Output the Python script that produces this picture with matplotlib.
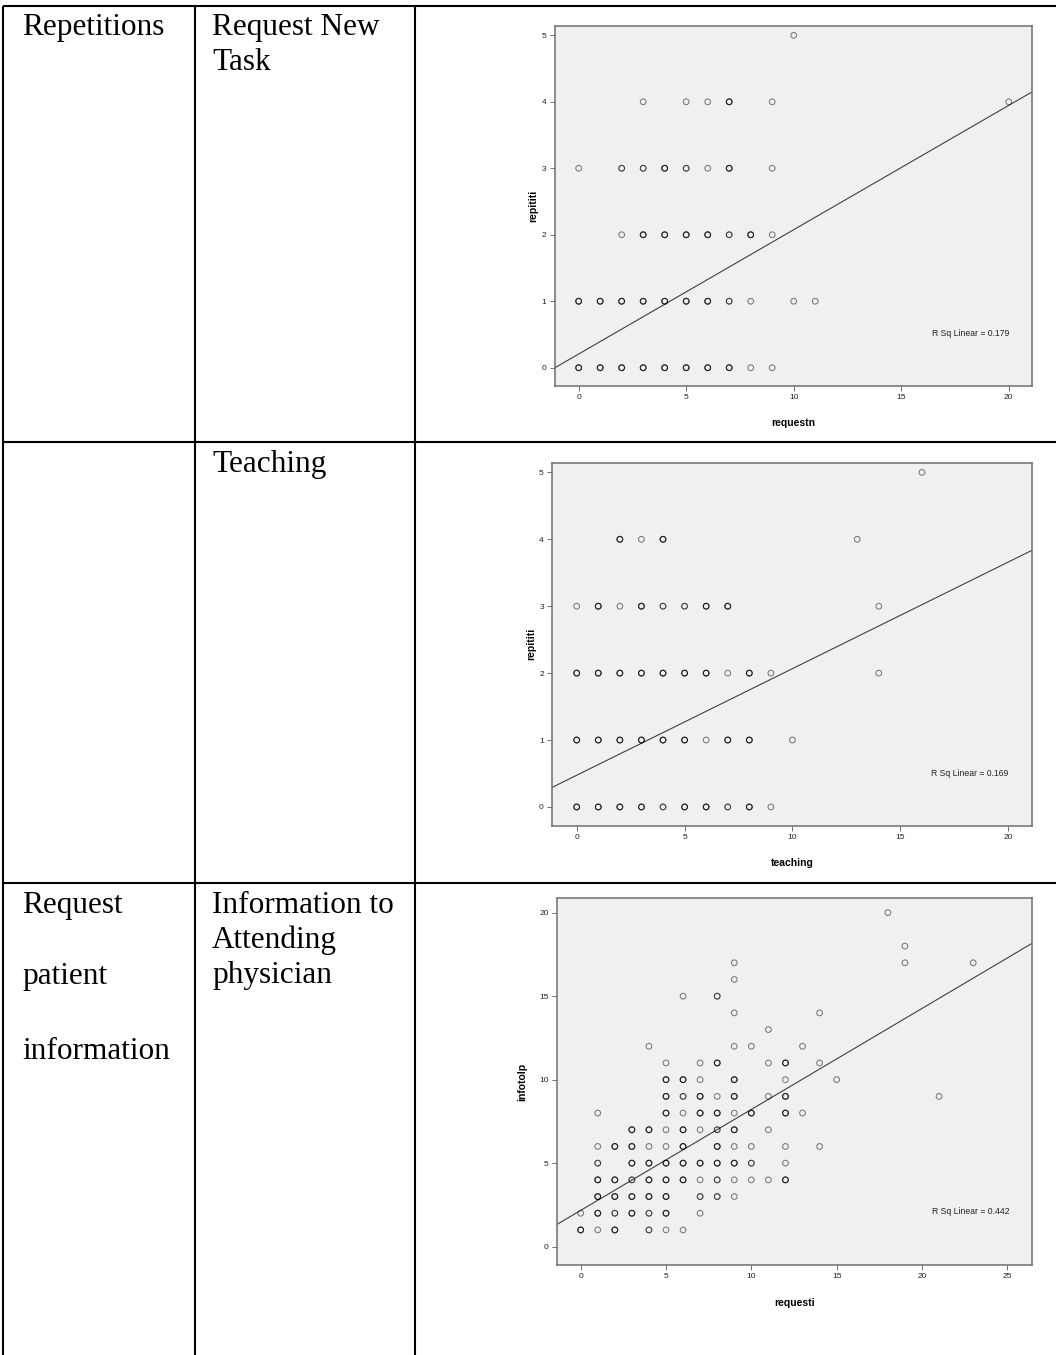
import numpy as np
import matplotlib
matplotlib.use("Agg")
import matplotlib.pyplot as plt

# ---------------- data ----------------
# Panel 1: requestn vs repititi  (n = overlap count estimated from darkness)
p1_x = [10, 3, 5, 6, 7, 9, 20,
        0, 2, 3, 4, 5, 6, 7, 9,
        2, 3, 4, 5, 6, 7, 8, 9,
        0, 1, 2, 3, 4, 5, 6, 7, 8, 10, 11,
        0, 1, 2, 3, 4, 5, 6, 7, 8, 9]
p1_y = [5, 4, 4, 4, 4, 4, 4,
        3, 3, 3, 3, 3, 3, 3, 3,
        2, 2, 2, 2, 2, 2, 2, 2,
        1, 1, 1, 1, 1, 1, 1, 1, 1, 1, 1,
        0, 0, 0, 0, 0, 0, 0, 0, 0, 0]
p1_n = [1, 1, 1, 1, 3, 1, 1,
        1, 2, 2, 3, 2, 1, 3, 1,
        1, 3, 3, 3, 3, 2, 3, 1,
        3, 3, 3, 3, 3, 3, 3, 2, 1, 1, 1,
        3, 3, 3, 3, 3, 3, 3, 3, 1, 1]
p1_fit = (0.206, 0.187)   # intercept, slope
p1_r2 = "R Sq Linear = 0.179"

# Panel 2: teaching vs repititi
p2_x = [16, 2, 3, 4, 13,
        0, 1, 2, 3, 4, 5, 6, 7, 14,
        0, 1, 2, 3, 4, 5, 6, 7, 8, 9, 14,
        0, 1, 2, 3, 4, 5, 6, 7, 8, 10,
        0, 1, 2, 3, 4, 5, 6, 7, 8, 9]
p2_y = [5, 4, 4, 4, 4,
        3, 3, 3, 3, 3, 3, 3, 3, 3,
        2, 2, 2, 2, 2, 2, 2, 2, 2, 2, 2,
        1, 1, 1, 1, 1, 1, 1, 1, 1, 1,
        0, 0, 0, 0, 0, 0, 0, 0, 0, 0]
p2_n = [1, 3, 1, 3, 1,
        1, 3, 1, 3, 2, 2, 3, 3, 1,
        3, 3, 3, 3, 3, 3, 3, 1, 3, 1, 1,
        3, 3, 3, 3, 3, 3, 1, 3, 3, 1,
        3, 3, 3, 3, 2, 3, 3, 2, 3, 1]
p2_fit = (0.474, 0.1593)
p2_r2 = "R Sq Linear = 0.169"

# Panel 3: requesti vs infotolp
p3_x = [18, 19, 9, 19, 23, 9, 6, 8, 9, 14, 11, 4, 9, 10, 13,
        5, 7, 8, 11, 12, 14,
        5, 6, 7, 9, 12, 15,
        5, 6, 7, 8, 9, 11, 12, 21,
        1, 5, 6, 7, 8, 9, 10, 12, 13,
        3, 4, 5, 6, 7, 8, 9, 11,
        1, 2, 3, 4, 5, 6, 8, 9, 10, 12, 14,
        1, 3, 4, 5, 6, 7, 8, 9, 10, 12,
        1, 2, 3, 4, 5, 6, 7, 8, 9, 10, 11, 12,
        1, 2, 3, 4, 5, 7, 8, 9,
        0, 1, 2, 3, 4, 5, 7,
        0, 1, 2, 4, 5, 6]
p3_y = [20, 18, 17, 17, 17, 16, 15, 15, 14, 14, 13, 12, 12, 12, 12,
        11, 11, 11, 11, 11, 11,
        10, 10, 10, 10, 10, 10,
        9, 9, 9, 9, 9, 9, 9, 9,
        8, 8, 8, 8, 8, 8, 8, 8, 8,
        7, 7, 7, 7, 7, 7, 7, 7,
        6, 6, 6, 6, 6, 6, 6, 6, 6, 6, 6,
        5, 5, 5, 5, 5, 5, 5, 5, 5, 5,
        4, 4, 4, 4, 4, 4, 4, 4, 4, 4, 4, 4,
        3, 3, 3, 3, 3, 3, 3, 3,
        2, 2, 2, 2, 2, 2, 2,
        1, 1, 1, 1, 1, 1]
p3_n = [1, 1, 1, 1, 1, 1, 1, 2, 1, 1, 1, 1, 1, 1, 1,
        1, 1, 3, 1, 3, 1,
        3, 3, 1, 3, 1, 1,
        3, 2, 3, 1, 3, 1, 3, 1,
        1, 3, 1, 3, 3, 1, 3, 3, 1,
        3, 3, 1, 3, 1, 2, 3, 1,
        1, 3, 3, 1, 1, 3, 3, 1, 1, 1, 1,
        2, 3, 3, 3, 3, 3, 3, 3, 2, 1,
        3, 3, 2, 3, 3, 3, 1, 2, 1, 1, 1, 3,
        3, 3, 3, 3, 3, 2, 2, 1,
        1, 3, 2, 3, 2, 3, 1,
        3, 1, 3, 2, 1, 1]
p3_fit = (2.17, 0.6047)
p3_r2 = "R Sq Linear = 0.442"

# table text
col1_texts = [("Repetitions", 35), ("Request", 913), ("patient", 984), ("information", 1059)]
col2_texts = [("Request New", 35), ("Task", 70), ("Teaching", 472),
              ("Information to", 913), ("Attending", 948), ("physician", 983)]

# ---------------- figure ----------------
W, H = 1056, 1355
fig = plt.figure(figsize=(W / 100, H / 100), dpi=100)
fig.patch.set_facecolor("white")

bg = fig.add_axes([0, 0, 1, 1])
bg.set_xlim(0, W)
bg.set_ylim(H, 0)
bg.axis("off")

lc = "black"
lw = 1.5
for yy in (6, 442, 883):
    bg.plot([3, W], [yy, yy], color=lc, lw=lw, solid_capstyle="butt")
for xx in (3, 195, 415):
    bg.plot([xx, xx], [6, H], color=lc, lw=lw, solid_capstyle="butt")

serif = ["Liberation Serif", "DejaVu Serif"]
for t, yb in col1_texts:
    bg.text(22, yb, t, fontsize=22.5, family=serif, va="baseline", ha="left")
for t, yb in col2_texts:
    bg.text(212, yb, t, fontsize=22.5, family=serif, va="baseline", ha="left")

sans = ["Liberation Sans", "DejaVu Sans"]


def make_panel(box, xs, ys, ns, fit, r2, xlim, ylim, xticks, yticks, xlabel, ylabel, ylab_x):
    l, r, t, b = box
    ax = fig.add_axes([l / W, 1 - b / H, (r - l) / W, (b - t) / H])
    ax.set_facecolor("#f0f0f0")
    xr = np.repeat(np.array(xs, float), ns)
    yr = np.repeat(np.array(ys, float), ns)
    ax.scatter(xr, yr, s=17, facecolors="none", edgecolors="black",
               linewidths=0.75, alpha=0.5, zorder=3)
    a, m = fit
    xx = np.array(xlim)
    ax.plot(xx, a + m * xx, color="#404040", lw=0.8, zorder=2)
    ax.set_xlim(*xlim)
    ax.set_ylim(*ylim)
    ax.set_xticks(xticks)
    ax.set_yticks(yticks)
    for sp in ax.spines.values():
        sp.set_color("#707070")
        sp.set_linewidth(1.1)
    ax.tick_params(axis="both", direction="out", length=3.6, width=0.7,
                   color="#707070", labelsize=6, pad=2.5, labelcolor="#222222")
    for lab in ax.get_xticklabels() + ax.get_yticklabels():
        lab.set_family(sans)
    ax.set_xlabel(xlabel, fontsize=7.5, fontweight="bold", family=sans)
    ax.set_ylabel(ylabel, fontsize=7.5, fontweight="bold", family=sans)
    ax.xaxis.set_label_coords(0.5, -0.09)
    ax.yaxis.set_label_coords(ylab_x, 0.5)
    ax.text(0.79, 0.145, r2, transform=ax.transAxes, fontsize=6.2,
            family=sans, ha="left", va="center", color="#222222")
    return ax


make_panel((555, 1032, 26, 386), p1_x, p1_y, p1_n, p1_fit, p1_r2,
           (-1.1, 21.08), (-0.275, 5.14), [0, 5, 10, 15, 20], [0, 1, 2, 3, 4, 5],
           "requestn", "repititi", -0.036)
make_panel((552.3, 1032, 463, 825.7), p2_x, p2_y, p2_n, p2_fit, p2_r2,
           (-1.13, 21.1), (-0.28, 5.14), [0, 5, 10, 15, 20], [0, 1, 2, 3, 4, 5],
           "teaching", "repititi", -0.034)
make_panel((557.3, 1031.7, 898, 1265), p3_x, p3_y, p3_n, p3_fit, p3_r2,
           (-1.37, 26.43), (-1.1, 20.88), [0, 5, 10, 15, 20, 25], [0, 5, 10, 15, 20],
           "requesti", "infotolp", -0.064)

fig.savefig("out.png", dpi=100, facecolor="white")
